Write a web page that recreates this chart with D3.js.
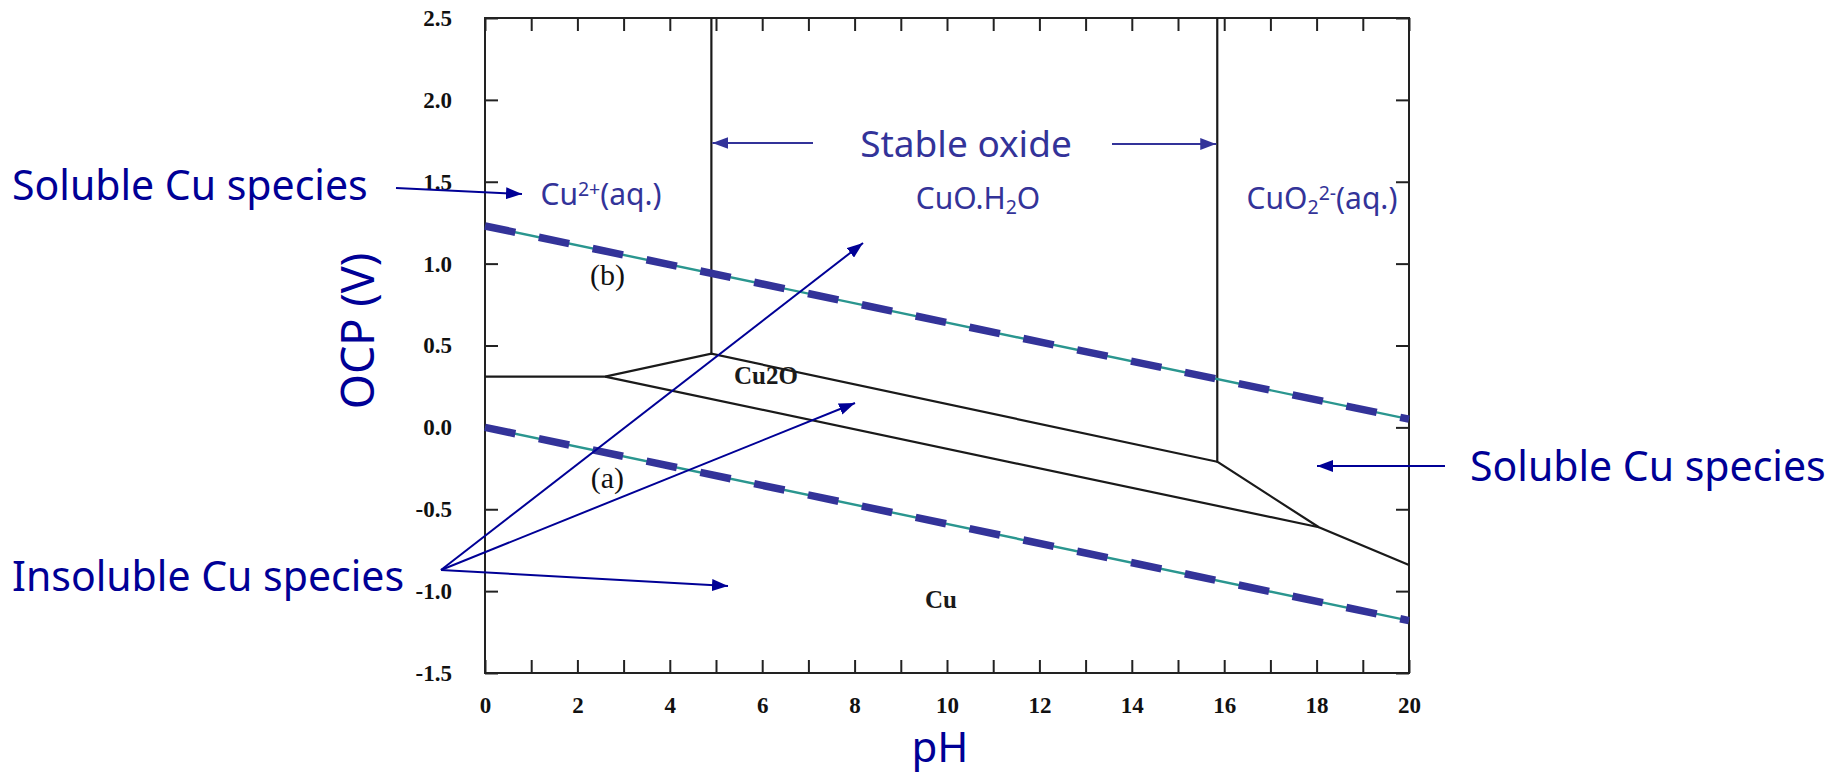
<!DOCTYPE html>
<html>
<head>
<meta charset="utf-8">
<script src="https://cdn.jsdelivr.net/npm/d3@7"></script>
<style>
  body { margin: 0; background: #fff; }
  .tick text { font-family: "Liberation Serif", "Times New Roman", serif; font-weight: bold; font-size: 23px; fill: #111; }
  .tick line { stroke: #222; stroke-width: 2px; }
</style>
</head>
<body>
<div id="chart"></div>
<script>
// pH axis and potential axis
const xTickValues = d3.range(0, 21, 1);
const xTickLabels = [0, 2, 4, 6, 8, 10, 12, 14, 16, 18, 20];
const yTickLabels = [-1.5, -1.0, -0.5, 0.0, 0.5, 1.0, 1.5, 2.0, 2.5];

// Pourbaix boundaries (pH, V)
const boundaryCuOxide = [[4.9, 2.5], [4.9, 0.45]];
const boundaryCuO2 = [[15.85, 2.5], [15.85, -0.21], [18.05, -0.61], [20, -0.84]];
const boundaryCu2Plus = [[0, 0.31], [2.6, 0.31], [4.9, 0.45], [15.85, -0.21]];
const boundaryCu = [[2.6, 0.31], [18.05, -0.61]];

// water stability lines
const waterLineA = [[0, 0.0], [20, -1.18]];
const waterLineB = [[0, 1.23], [20, 0.05]];

// region labels (pH, V)
const phaseLabels = [
    {text: "Cu2O", ph: 6.08, v: 0.30},
    {text: "Cu", ph: 9.87, v: -1.07}
];
const lineLabels = [
    {text: "(b)", ph: 2.65, v: 0.91},
    {text: "(a)", ph: 2.65, v: -0.33}
];

const width = 1839, height = 774;
const margin = {top: 18, right: 430, bottom: 101, left: 485};

const svg = d3.select("#chart")
    .append("svg")
    .attr("width", width)
    .attr("height", height);

const defs = svg.append("defs");
function marker(id, color) {
    defs.append("marker")
        .attr("id", id)
        .attr("viewBox", "0 0 16 12")
        .attr("refX", 16)
        .attr("refY", 6)
        .attr("markerWidth", 16)
        .attr("markerHeight", 12)
        .attr("markerUnits", "userSpaceOnUse")
        .attr("orient", "auto")
        .append("path")
        .attr("d", "M0,0 L16,6 L0,12 Z")
        .attr("fill", color);
}
marker("arrNavy", "#000096");
marker("arrSlate", "#333399");

const x = d3.scaleLinear()
    .domain([0, 20])
    .range([margin.left, width - margin.right]);

const y = d3.scaleLinear()
    .domain([-1.5, 2.5])
    .range([height - margin.bottom, margin.top]);

// axes with inward ticks
svg.append("g")
    .attr("transform", `translate(0,${y(-1.5)})`)
    .call(d3.axisBottom(x).tickValues(xTickValues).tickSize(-13).tickPadding(24)
        .tickFormat(d => xTickLabels.includes(d) ? d : ""))
    .call(g => g.select(".domain").remove())
    .call(g => g.selectAll(".tick text").filter(function() { return this.textContent === ""; }).remove());

svg.append("g")
    .attr("transform", `translate(0,${y(2.5)})`)
    .call(d3.axisTop(x).tickValues(xTickValues).tickSize(-13).tickFormat(""))
    .call(g => g.select(".domain").remove())
    .call(g => g.selectAll(".tick text").remove());

svg.append("g")
    .attr("transform", `translate(${x(0)},0)`)
    .call(d3.axisLeft(y).tickValues(yTickLabels).tickSize(-13).tickPadding(33)
        .tickFormat(d => d.toFixed(1)))
    .call(g => g.select(".domain").remove());

svg.append("g")
    .attr("transform", `translate(${x(20)},0)`)
    .call(d3.axisRight(y).tickValues(yTickLabels).tickSize(-13).tickFormat(""))
    .call(g => g.select(".domain").remove())
    .call(g => g.selectAll(".tick text").remove());

svg.append("rect")
    .attr("x", x(0))
    .attr("y", y(2.5))
    .attr("width", x(20) - x(0))
    .attr("height", y(-1.5) - y(2.5))
    .attr("fill", "none")
    .attr("stroke", "#222")
    .attr("stroke-width", 2);

const line = d3.line().x(d => x(d[0])).y(d => y(d[1]));

// phase boundaries
[boundaryCuOxide, boundaryCuO2, boundaryCu2Plus, boundaryCu].forEach(b => {
    svg.append("path")
        .attr("d", line(b))
        .attr("fill", "none")
        .attr("stroke", "#1a1a1a")
        .attr("stroke-width", 2.2);
});

// water lines: thin teal under thick navy dashes
[waterLineA, waterLineB].forEach(w => {
    svg.append("path")
        .attr("d", line(w))
        .attr("fill", "none")
        .attr("stroke", "#2a968f")
        .attr("stroke-width", 2.4);
    svg.append("path")
        .attr("d", line(w))
        .attr("fill", "none")
        .attr("stroke", "#333399")
        .attr("stroke-width", 7.5)
        .attr("stroke-dasharray", "31,24");
});

phaseLabels.forEach(l => {
    svg.append("text")
        .attr("x", x(l.ph))
        .attr("y", y(l.v))
        .attr("text-anchor", "middle")
        .attr("dominant-baseline", "middle")
        .style("font-family", "Liberation Serif, serif")
        .style("font-weight", "bold")
        .style("font-size", "25px")
        .attr("fill", "#1a1a1a")
        .text(l.text);
});

lineLabels.forEach(l => {
    svg.append("text")
        .attr("x", x(l.ph))
        .attr("y", y(l.v))
        .attr("text-anchor", "middle")
        .attr("dominant-baseline", "middle")
        .style("font-family", "Liberation Serif, serif")
        .style("font-size", "30px")
        .attr("fill", "#111")
        .text(l.text);
});

// species annotations inside the plot
const sans = "'Comic Sans MS', 'Noto Sans', sans-serif";
function species(xp, yp, parts, size) {
    const t = svg.append("text")
        .attr("x", xp)
        .attr("y", yp)
        .attr("text-anchor", "middle")
        .style("font-family", sans)
        .style("font-size", size + "px")
        .attr("fill", "#333399");
    parts.forEach(p => {
        const s = t.append("tspan").text(p.t);
        if (p.sup) s.style("font-size", (size * 0.65) + "px").attr("baseline-shift", "45%");
        if (p.sub) s.style("font-size", (size * 0.65) + "px").attr("baseline-shift", "-25%");
    });
}
species(601, 205, [{t: "Cu"}, {t: "2+", sup: true}, {t: "(aq.)"}], 30);
species(978, 209, [{t: "CuO.H"}, {t: "2", sub: true}, {t: "O"}], 30);
species(1322, 209, [{t: "CuO"}, {t: "2", sub: true}, {t: "2-", sup: true}, {t: "(aq.)"}], 30);

svg.append("text")
    .attr("x", 966)
    .attr("y", 157)
    .attr("text-anchor", "middle")
    .style("font-family", sans)
    .style("font-size", "37px")
    .attr("fill", "#333399")
    .text("Stable oxide");

svg.append("line")
    .attr("x1", 813).attr("y1", 143).attr("x2", x(4.9) + 1).attr("y2", 143)
    .attr("stroke", "#333399").attr("stroke-width", 2)
    .attr("marker-end", "url(#arrSlate)");
svg.append("line")
    .attr("x1", 1112).attr("y1", 144).attr("x2", x(15.85) - 1).attr("y2", 144)
    .attr("stroke", "#333399").attr("stroke-width", 2)
    .attr("marker-end", "url(#arrSlate)");

// outer labels and arrows
function outer(xp, yp, text) {
    svg.append("text")
        .attr("x", xp)
        .attr("y", yp)
        .style("font-family", sans)
        .style("font-size", "41px")
        .attr("fill", "#000096")
        .text(text);
}
function arrow(x1, y1, x2, y2) {
    svg.append("line")
        .attr("x1", x1).attr("y1", y1).attr("x2", x2).attr("y2", y2)
        .attr("stroke", "#000096").attr("stroke-width", 2)
        .attr("marker-end", "url(#arrNavy)");
}
outer(12, 200, "Soluble Cu species");
arrow(396, 188, 522, 194);

outer(1470, 481, "Soluble Cu species");
arrow(1445, 466, 1317, 466);

outer(12, 591, "Insoluble Cu species");
arrow(441, 570, 863, 243);
arrow(441, 570, 855, 403);
arrow(441, 570, 728, 586);

// axis titles
svg.append("text")
    .attr("transform", "translate(374,331) rotate(-90)")
    .attr("text-anchor", "middle")
    .style("font-family", sans)
    .style("font-size", "45px")
    .attr("fill", "#000096")
    .text("OCP (V)");

svg.append("text")
    .attr("x", 940)
    .attr("y", 762)
    .attr("text-anchor", "middle")
    .style("font-family", sans)
    .style("font-size", "42px")
    .attr("fill", "#000096")
    .text("pH");
</script>
</body>
</html>
